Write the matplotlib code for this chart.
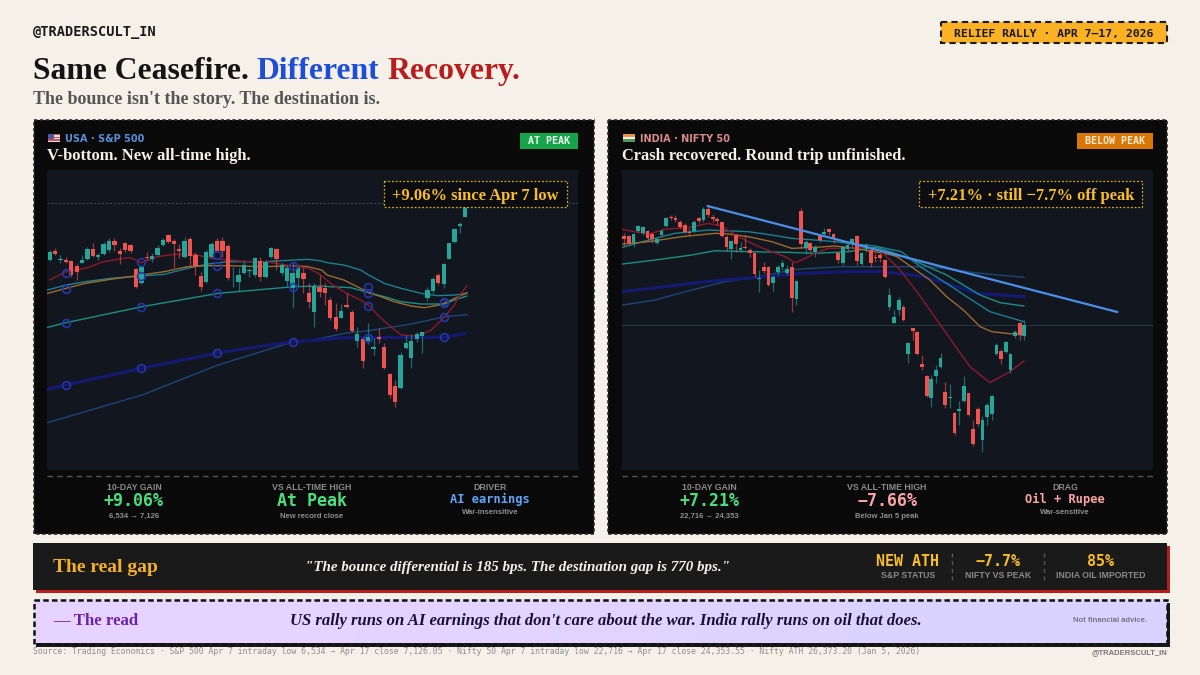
"""
plot.py
-------
Relief rally comparison card: S&P 500 vs Nifty 50 candles, Apr 2026.
Values are read off the reference picture.  Saves out.png at 1200x675.
"""

import numpy as np
import matplotlib
matplotlib.use('Agg')
import matplotlib.pyplot as plt
from matplotlib.patches import Rectangle

# =============================================================================
# DATA - S&P 500
# =============================================================================

us_open = [6964, 6990, 6965, 6963, 6961, 6946, 6956, 6966, 6996, 6974,
           6982, 6994, 7021, 6991, 7016, 7009, 6937, 6894, 6974, 6966,
           6979, 7009, 7040, 7022, 6998, 6974, 7028, 6980, 6916, 6898,
           6974, 7020, 7021, 7007, 6912, 6899, 6926, 6932, 6918, 6962,
           6914, 6972, 6996, 6926, 6902, 6879, 6909, 6924, 6864, 6809,
           6884, 6879, 6844, 6792, 6791, 6829, 6809, 6722, 6727, 6722,
           6698, 6734, 6702, 6622, 6586, 6579, 6701, 6669, 6726, 6736,
           6849, 6872, 6918, 6892, 6968, 7018, 7066, 7094]
us_high = [6994, 6999, 6979, 6974, 6964, 6952, 6979, 7004, 7014, 6986,
           7019, 7029, 7029, 6999, 7019, 7012, 6939, 6949, 6989, 6986,
           7009, 7029, 7042, 7026, 7012, 7032, 7032, 6989, 6929, 6994,
           7019, 7029, 7032, 7012, 6944, 6939, 6964, 6939, 6974, 6972,
           6964, 7002, 6999, 6954, 6949, 6954, 6944, 6939, 6894, 6894,
           6919, 6894, 6854, 6834, 6832, 6864, 6814, 6762, 6732, 6774,
           6729, 6759, 6714, 6624, 6604, 6689, 6739, 6741, 6749, 6749,
           6882, 6914, 6924, 6954, 7016, 7059, 7079, 7129]
us_low = [6960, 6979, 6954, 6954, 6914, 6904, 6954, 6964, 6974, 6964,
          6979, 6989, 6992, 6952, 6989, 6984, 6879, 6892, 6964, 6959,
          6976, 7006, 7016, 6939, 6969, 6969, 6944, 6919, 6872, 6894,
          6969, 6989, 6972, 6904, 6884, 6872, 6922, 6914, 6914, 6902,
          6909, 6969, 6934, 6919, 6884, 6819, 6884, 6864, 6819, 6764,
          6854, 6829, 6784, 6752, 6789, 6819, 6749, 6704, 6641, 6712,
          6679, 6714, 6637, 6549, 6522, 6576, 6696, 6641, 6719, 6686,
          6842, 6864, 6889, 6881, 6966, 7014, 7044, 7092]
us_close = [6988, 6983, 6966, 6957, 6918, 6927, 6965, 6997, 6977, 6979,
            7012, 7022, 7009, 6981, 6994, 6991, 6884, 6942, 6969, 6976,
            7000, 7024, 7019, 7012, 6990, 7021, 6976, 6947, 6882, 6988,
            7012, 6992, 6992, 6909, 6914, 6918, 6949, 6934, 6970, 6912,
            6957, 6999, 6967, 6948, 6939, 6924, 6939, 6907, 6839, 6886,
            6869, 6864, 6789, 6756, 6811, 6822, 6752, 6741, 6662, 6734,
            6702, 6728, 6639, 6559, 6539, 6679, 6716, 6722, 6741, 6747,
            6874, 6907, 6896, 6952, 7014, 7057, 7071, 7122]

# moving averages: bar number, level
us_red_n = [0, 3, 7, 10, 14, 15, 17, 20, 23, 27, 30, 33, 36, 40, 45, 48, 50, 52,
            55, 57.6, 59.2, 61.4, 63.2, 65.1, 68.2, 70.7, 73.2, 75, 75.6, 77.3]
us_red = [6904, 6929, 6941, 6959, 6970, 6971, 6956, 6974, 6981, 6980, 6969, 6964,
          6960, 6959, 6946, 6939, 6922, 6894, 6864, 6844, 6826, 6789, 6764, 6739,
          6736, 6754, 6794, 6829, 6849, 6887]
us_orange_n = [-0.4, 3, 6.6, 11.2, 17.1, 21.2, 25.5, 29.3, 33, 39.8, 45.2, 47.9,
               50.4, 51.4, 54.5, 57.6, 59.1, 61.4, 63.8, 67, 69.4, 72.2, 74.4, 77.3]
us_orange = [6864, 6879, 6894, 6906, 6919, 6929, 6944, 6947, 6947, 6944, 6947, 6944,
             6934, 6919, 6904, 6879, 6866, 6854, 6839, 6826, 6821, 6829, 6844, 6866]
us_teal_n = [-0.4, 3, 6.6, 11.2, 17.1, 21.2, 25.5, 29.3, 33, 39.8, 45.2, 47.9, 50.4,
             51.4, 54.5, 57.6, 59.1, 62, 65.1, 68.8, 71.9, 75, 77.3]
us_teal = [6874, 6889, 6899, 6909, 6916, 6921, 6939, 6952, 6959, 6959, 6964, 6966,
           6961, 6956, 6949, 6934, 6919, 6894, 6879, 6864, 6857, 6859, 6864]
us_green_n = [-0.4, 3, 17.1, 31.2, 45.2, 50.4, 52, 55.8, 59.1, 62, 65.1, 68.8, 73.2,
              75, 77.3]
us_green = [6762, 6776, 6824, 6864, 6884, 6886, 6884, 6881, 6866, 6854, 6839, 6832,
            6832, 6844, 6856]
us_navy_n = [-0.4, 3, 17, 31, 45, 48.3, 54.5, 59.1, 67, 73.2, 76.9]
us_navy = [6576, 6589, 6639, 6685, 6719, 6722, 6731, 6731, 6732, 6732, 6744]
us_steel_n = [-0.4, 17.1, 31.2, 45.2, 48.3, 54.5, 59.1, 67, 73.2, 77.3]
us_steel = [6476, 6559, 6649, 6719, 6722, 6744, 6752, 6772, 6794, 6800]

us_ring_n = [3, 3, 3, 3, 17, 17, 17, 17, 31, 31, 31, 31, 45, 45, 45,
             59, 59, 59, 59, 73, 73, 73, 73]
us_ring = [6925, 6876, 6776, 6589, 6959, 6916, 6824, 6639, 6979, 6947, 6864, 6685,
           6945, 6884, 6719, 6884, 6866, 6827, 6731, 6837, 6834, 6794, 6732]
us_ath = 7134

# =============================================================================
# DATA - NIFTY 50
# =============================================================================

in_open = [25938, 25938, 25838, 26018, 25978, 26013, 25963, 25833, 25958, 26088,
           26228, 26208, 26153, 26103, 26003, 26018, 26203, 26178, 26338, 26218,
           26193, 26143, 25918, 25738, 25953, 25728, 25773, 25728, 25678, 25293,
           25468, 25468, 25228, 25393, 25468, 25378, 25468, 24993, 26318, 25753,
           25828, 25693, 25938, 25968, 26048, 25963, 25678, 25538, 25738, 25818,
           25938, 25518, 25778, 25728, 25628, 25653, 25578, 24868, 24638, 24828,
           24878, 24168, 24553, 24498, 24013, 23838, 23513, 23843, 23968, 23593,
           23513, 23278, 23318, 23468, 23578, 23038, 23338, 22878, 23228, 23268,
           24168, 24218, 24193, 23928, 24438, 24638, 24438]
in_high = [25978, 25953, 25978, 26103, 26088, 26028, 25978, 25928, 26038, 26228,
           26253, 26253, 26178, 26128, 26053, 26178, 26228, 26368, 26403, 26268,
           26228, 26153, 25953, 25878, 25968, 25853, 25953, 25753, 25688, 25428,
           25553, 25488, 25353, 25503, 25578, 25503, 25553, 25278, 26353, 25878,
           25853, 25803, 25953, 26053, 26063, 25978, 25703, 25788, 25828, 25903,
           25953, 25703, 25828, 25738, 25678, 25678, 25588, 25153, 24828, 25028,
           24903, 24353, 24553, 24518, 24153, 23853, 23853, 24003, 24178, 23753,
           23718, 23293, 23468, 23838, 23588, 23178, 23368, 23238, 23428, 23553,
           24328, 24238, 24368, 24188, 24528, 24653, 24678]
in_low = [25788, 25803, 25778, 26003, 25953, 25878, 25838, 25818, 25938, 26068,
          26178, 26153, 26053, 25978, 25953, 25998, 26128, 26153, 26228, 26153,
          26103, 25918, 25718, 25588, 25703, 25703, 25743, 25628, 25328, 25103,
          25378, 25188, 25118, 25353, 25428, 25353, 24803, 24903, 25753, 25668,
          25703, 25618, 25853, 25953, 25953, 25838, 25528, 25503, 25718, 25753,
          25503, 25503, 25703, 25478, 25553, 25553, 25303, 24828, 24628, 24753,
          24663, 24038, 24378, 24153, 23928, 23518, 23378, 23728, 23953, 23353,
          23353, 22953, 23103, 23453, 23238, 22788, 23088, 22703, 23103, 23178,
          24153, 24018, 24178, 23888, 24403, 24378, 24378]
in_close = [25898, 25828, 25963, 26088, 26068, 25903, 25888, 25888, 26013, 26203,
            26203, 26178, 26078, 25993, 25988, 26153, 26168, 26338, 26253, 26193,
            26168, 25938, 25768, 25863, 25813, 25753, 25758, 25678, 25368, 25303,
            25418, 25203, 25318, 25473, 25538, 25448, 25003, 25258, 25818, 25853,
            25728, 25778, 25878, 26003, 26003, 25888, 25578, 25768, 25803, 25893,
            25568, 25688, 25798, 25538, 25603, 25613, 25328, 25053, 24718, 24978,
            24678, 24328, 24518, 24168, 23968, 23538, 23788, 23928, 24103, 23403,
            23523, 22978, 23348, 23693, 23253, 22813, 23118, 23178, 23403, 23538,
            24303, 24093, 24343, 24168, 24503, 24453, 24603]

in_red_n = [-0.4, 2.3, 5.2, 8.7, 13.8, 18.1, 20.9, 24.5, 28.1, 31.7, 34.6, 36.7,
            38.1, 41, 43.9, 48.2, 51.8, 55.3, 59.3, 62.9, 65.7, 70, 74.3, 78.6,
            82.9, 85.9]
in_red = [26038, 26003, 25968, 26038, 26068, 26128, 26088, 25928, 25803, 25703,
          25628, 25538, 25578, 25678, 25753, 25753, 25778, 25703, 25428, 25103,
          24828, 24403, 23978, 23738, 23903, 24063]
in_orange_n = [-0.4, 5.2, 12.3, 19.5, 22.4, 26.7, 31.7, 36, 41, 45.3, 49.6, 53.9,
               57.5, 58.6, 62.2, 65.7, 69.3, 72.9, 76.5, 79, 82.2, 85.9]
in_orange = [25818, 25853, 25928, 25978, 25968, 25928, 25853, 25753, 25768, 25788,
             25753, 25703, 25653, 25628, 25453, 25278, 25028, 24828, 24578, 24503,
             24478, 24453]
in_teal_n = [-0.4, 5.2, 10.9, 18.1, 26.7, 31.7, 36, 41, 45.3, 49.6, 53.9, 59.6, 63.6,
             69.3, 73.6, 78.6, 85.9]
in_teal = [25768, 25878, 25978, 26028, 26003, 25953, 25903, 25878, 25853, 25818,
           25788, 25703, 25478, 25228, 25028, 24803, 24653]
in_green_n = [-0.4, 6.6, 14.5, 19.5, 26.7, 35.3, 41, 48.2, 53.9, 55, 59.3, 63.6,
              69.3, 72.9, 76.5, 80.8, 85.9]
in_green = [25518, 25578, 25653, 25718, 25703, 25693, 25678, 25703, 25768, 25753,
            25653, 25528, 25353, 25203, 25053, 24938, 24888]
in_navy_n = [-0.4, 8.7, 19.5, 28.8, 38.1, 48.2, 55.3, 60.4, 64.3, 69.3, 75.8, 85.9]
in_navy = [25103, 25178, 25268, 25318, 25378, 25403, 25403, 25368, 25328, 25228,
           25078, 25028]
in_steel_n = [-0.4, 6.6, 14.5, 21.6, 28.8, 36.7, 46.7, 59.6, 65.7, 76.5, 85.9]
in_steel = [24903, 24978, 25128, 25253, 25328, 25438, 25478, 25478, 25478, 25378,
            25318]

in_trend_n = [17.9, 106]
in_trend = [26388, 24798]
in_level = 24603

# =============================================================================
# STYLE
# =============================================================================

SERIF = 'Liberation Serif'
SANS = 'Liberation Sans'
MONO = 'DejaVu Sans Mono'

PAPER = '#f5f0e8'
CARD = '#0a0a0a'
CHART_BG = '#12161f'
UP = '#26a69a'
DOWN = '#ef5350'
GOLD = '#fbbf24'

MA_RED = '#84192b'
MA_ORANGE = '#9c6c2c'
MA_TEAL = '#1c8090'
MA_GREEN = '#1c8e82'
MA_NAVY = '#141a74'
MA_STEEL = '#1c4678'
RING = '#2238a8'

W, H = 1200, 675
fig = plt.figure(figsize=(W / 100, H / 100), dpi=100, facecolor=PAPER)
ax = fig.add_axes([0, 0, 1, 1])
ax.set_xlim(0, W)
ax.set_ylim(H, 0)
ax.axis('off')


def label(x, y, s, px, color, family=SANS, weight='bold', ha='left', style='normal',
          target=None):
    """Text with its baseline at y, font size given in pixels."""
    return (target or ax).text(x, y, s, fontsize=px * 0.72, color=color, family=family,
                               weight=weight, ha=ha, va='baseline', style=style)


def box(x0, y0, x1, y1, face='none', edge='none', lw=0.0, ls='-', z=1):
    ax.add_patch(Rectangle((x0, y0), x1 - x0, y1 - y0, facecolor=face, edgecolor=edge,
                           linewidth=lw, linestyle=ls, zorder=z))


# =============================================================================
# HEADER
# =============================================================================

label(33, 36, '@TRADERSCULT_IN', 13.6, '#1a1a1a', family=MONO)

box(941, 21.5, 1166.5, 43, face='#fbb124', edge='#1a1a1a', lw=1.5, ls=(0, (3, 2)))
label(1053.5, 36.5, 'RELIEF RALLY · APR 7–17, 2026', 11.5, '#1a1a1a', family=MONO, ha='center')

renderer = fig.canvas.get_renderer()
x_cursor = 33
for word, colour in [('Same Ceasefire. ', '#141414'), ('Different ', '#1d4ed8'),
                     ('Recovery.', '#b91c1c')]:
    t = label(x_cursor, 79, word.strip(), 31.6, colour, family=SERIF)
    probe = label(0, 0, word.replace(' ', '\u00a0'), 31.6, colour, family=SERIF)
    x_cursor += probe.get_window_extent(renderer).width
    probe.remove()

label(33, 104, "The bounce isn't the story. The destination is.", 18, '#555555', family=SERIF)

# =============================================================================
# CARDS
# =============================================================================


def candles(a, o, h, l, c):
    o, h, l, c = map(np.asarray, (o, h, l, c))
    n = np.arange(len(o))
    colours = np.where(c >= o, UP, DOWN)
    a.vlines(n, l, h, colors=colours, linewidth=0.9, alpha=0.6, zorder=4)
    a.bar(n, np.abs(c - o), bottom=np.minimum(o, c), width=0.8, color=colours, zorder=5)


def moving_averages(a, lines):
    for xs, ys, colour, lw in lines:
        a.plot(xs, ys, color=colour, lw=lw, zorder=3, solid_joinstyle='round')


def chart_axes(x0, x1, xlim, ylim):
    a = fig.add_axes([x0 / W, 1 - 469.5 / H, (x1 - x0) / W, 299.8 / H])
    a.set_facecolor(CHART_BG)
    a.set_xlim(*xlim)
    a.set_ylim(*ylim)
    a.set_xticks([])
    a.set_yticks([])
    for s in a.spines.values():
        s.set_visible(False)
    return a


def note(x0, x1, text):
    # drawn on a top layer so it stays above the candles
    top.add_patch(Rectangle((x0, 181), x1 - x0, 26.3, facecolor='#0b0d12', edgecolor='#d9a520',
                            linewidth=0.9, linestyle=(0, (1.5, 1.5))))
    label((x0 + x1) / 2, 200, text, 16.5, GOLD, family=SERIF, ha='center', target=top)


def stats(cols):
    for cx, head, value, colour, px, sub, vy, sy in cols:
        label(cx, 490.5, head, 8.8, '#8a8a8a', ha='center', target=top)
        label(cx, vy, value, px, colour, family=MONO, ha='center', target=top)
        label(cx, sy, sub, 7.6, '#8f8f8f', ha='center', target=top)


def flag(x0, y0, stripes):
    h = 8 / len(stripes)
    for i, colour in enumerate(stripes):
        box(x0, y0 + i * h, x0 + 11.5, y0 + (i + 1) * h, face=colour, z=3)


# card plates
for x0, x1 in [(33.5, 594), (608, 1167)]:
    box(x0, 120, x1, 534, face=CARD, edge='#2a2a2a', lw=1.2, ls=(0, (2, 1.5)), z=1)

# --- S&P 500 ---------------------------------------------------------------
flag(48, 134, ['#c9525c', '#e8e0e0', '#c9525c', '#e8e0e0', '#c9525c', '#e8e0e0'])
box(48, 134, 53.5, 138.5, face='#4a5a9a', z=4)
label(65, 141.5, 'USA · S&P 500', 9.8, '#5b8fd9', family='DejaVu Sans')
label(47, 160, 'V-bottom. New all-time high.', 16.5, PAPER, family=SERIF)
box(520, 133, 577.5, 148.5, face='#16a34a', z=2)
label(548.7, 144, 'AT PEAK', 10, '#eafff0', family=MONO, ha='center')

ax_us = chart_axes(47.3, 577.7, (-0.44, 97.83), (6335.5, 7235))
ax_us.axhline(us_ath, color='#2c4a50', lw=0.8, ls=(0, (2, 1.5)), zorder=2)
moving_averages(ax_us, [
    (us_steel_n, us_steel, MA_STEEL, 1.0),
    (us_navy_n, us_navy, MA_NAVY, 2.2),
    (us_green_n, us_green, MA_GREEN, 1.0),
    (us_teal_n, us_teal, MA_TEAL, 1.0),
    (us_orange_n, us_orange, MA_ORANGE, 1.0),
    (us_red_n, us_red, MA_RED, 1.1),
])
candles(ax_us, us_open, us_high, us_low, us_close)
ax_us.plot(us_ring_n, us_ring, ls='none', marker='o', ms=5.6, mfc='none', mec=RING, mew=1.2,
           zorder=6)

# --- NIFTY 50 --------------------------------------------------------------
flag(623, 134, ['#e8924a', '#f0ece6', '#4f9a5a'])
label(640, 141.5, 'INDIA · NIFTY 50', 9.8, '#d98a8a', family='DejaVu Sans')
label(622.3, 160, 'Crash recovered. Round trip unfinished.', 16.4, PAPER, family=SERIF)
box(1077, 133, 1152.7, 148.5, face='#d97706', z=2)
label(1114.8, 144, 'BELOW PEAK', 10, '#fdebd0', family=MONO, ha='center')

ax_in = chart_axes(622.3, 1152.7, (-0.43, 113.6), (22435.5, 26933))
ax_in.axhline(in_level, color='#1f3a40', lw=0.8, zorder=2)
moving_averages(ax_in, [
    (in_steel_n, in_steel, MA_STEEL, 1.0),
    (in_navy_n, in_navy, MA_NAVY, 2.2),
    (in_green_n, in_green, MA_GREEN, 1.0),
    (in_teal_n, in_teal, MA_TEAL, 1.0),
    (in_orange_n, in_orange, MA_ORANGE, 1.0),
    (in_red_n, in_red, MA_RED, 1.1),
])
candles(ax_in, in_open, in_high, in_low, in_close)
ax_in.plot(in_trend_n, in_trend, color='#4a8fe8', lw=1.6, zorder=7, solid_capstyle='round')

# layer above the two charts, same pixel frame as ax
top = fig.add_axes([0, 0, 1, 1], facecolor='none')
top.set_xlim(0, W)
top.set_ylim(H, 0)
top.axis('off')

note(384, 567, '+9.06% since Apr 7 low')
note(919.3, 1142.3, '+7.21% · still −7.7% off peak')

for x0, x1 in [(47.3, 577.7), (622.3, 1152.7)]:
    top.plot([x0, x1], [476, 476], color='#555555', lw=1, ls=(0, (4, 3)))

stats([
    (134, '10-DAY GAIN', '+9.06%', '#4ade80', 16.6, '6,534 → 7,126', 506, 518),
    (312, 'VS ALL-TIME HIGH', 'At Peak', '#4ade80', 16.6, 'New record close', 506, 518),
    (490, 'DRIVER', 'AI earnings', '#60a5fa', 12, 'War-insensitive', 503, 513.5),
    (709, '10-DAY GAIN', '+7.21%', '#4ade80', 16.6, '22,716 → 24,353', 506, 518),
    (887, 'VS ALL-TIME HIGH', '−7.66%', '#fca5a5', 16.6, 'Below Jan 5 peak', 506, 518),
    (1065, 'DRAG', 'Oil + Rupee', '#fca5a5', 12, 'War-sensitive', 503, 513.5),
])

# =============================================================================
# BOTTOM BANDS
# =============================================================================

box(36, 546, 1170, 593, face='#b91c1c', z=1)
box(33, 543, 1167, 590, face='#1a1a1a', z=2)
label(53, 572, 'The real gap', 19.5, '#f5b121', family=SERIF)
label(517.5, 571, '"The bounce differential is 185 bps. The destination gap is 770 bps."',
      15, PAPER, family=SERIF, ha='center', style='italic')

for cx, value, head in [(908, 'NEW ATH', 'S&P STATUS'), (998, '−7.7%', 'NIFTY VS PEAK'),
                        (1101, '85%', 'INDIA OIL IMPORTED')]:
    label(cx, 566, value, 15, GOLD, family=MONO, ha='center')
    label(cx, 578.5, head, 8.8, '#8a8a8a', ha='center')
for x in (952, 1044):
    ax.plot([x, x], [553, 580], color='#555555', lw=1, ls=(0, (3, 2.5)), zorder=3)

box(36, 603, 1170, 646.5, face='#1a1a1a', z=1)
ax.imshow(np.array([[[0.905, 0.83, 1.0], [0.86, 0.83, 1.0]]]),
          extent=(33.5, 1166.5, 643.5, 600), aspect='auto', zorder=2, interpolation='bilinear')
ax.set_xlim(0, W)
ax.set_ylim(H, 0)
box(33.5, 600, 1166.5, 643.5, edge='#111111', lw=1.8, ls=(0, (2.2, 1.3)), z=3)
label(53, 625, '— The read', 16.7, '#6b21a8', family=SERIF)
label(605.5, 625, "US rally runs on AI earnings that don't care about the war. "
      "India rally runs on oil that does.", 16.6, '#1a1033', family=SERIF, ha='center',
      style='italic')
label(1147, 622, 'Not financial advice.', 7.6, '#77738a', ha='right')

label(33, 654, 'Source: Trading Economics · S&P 500 Apr 7 intraday low 6,534 → Apr 17 close '
      '7,126.05 · Nifty 50 Apr 7 intraday low 22,716 → Apr 17 close 24,353.55 · '
      'Nifty ATH 26,373.20 (Jan 5, 2026)', 8.1, '#8f8f8f', family=MONO, weight='normal')
label(1167, 654, '@TRADERSCULT_IN', 7.6, '#777777', ha='right')

fig.savefig('out.png', dpi=100, facecolor=PAPER)
plt.close(fig)
